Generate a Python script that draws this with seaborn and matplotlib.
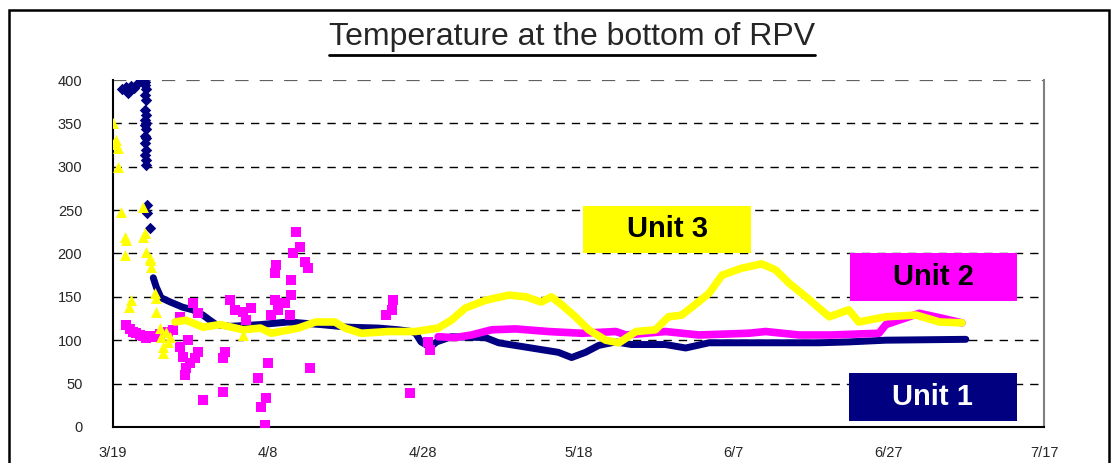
import matplotlib
matplotlib.use('Agg')
import matplotlib.pyplot as plt
import seaborn as sns
import pandas as pd
from matplotlib.patches import Rectangle
from matplotlib.lines import Line2D

# days counted from 3/19
tick_days = [0, 20, 40, 60, 80, 100, 120]
tick_labels = ['3/19', '4/8', '4/28', '5/18', '6/7', '6/27', '7/17']
y_ticks = [0, 50, 100, 150, 200, 250, 300, 350, 400]

# Unit 1 (navy diamonds)
u1_pts_day = [1.2, 1.7, 1.9, 2.3, 2.7, 3.2, 3.6, 4.1, 4.1, 4.2, 4.1, 4.2, 4.1, 4.2, 4.1, 4.2, 4.1,
              4.2, 4.1, 4.2, 4.1, 4.2, 4.1, 4.2, 4.2, 4.4, 4.4, 4.8]
u1_pts_temp = [390, 392, 385, 393, 391, 397, 400, 398, 394, 390, 383, 377, 366, 360, 354, 350,
               348, 344, 336, 333, 328, 319, 314, 308, 302, 256, 247, 229]
u1_day = [5.2, 5.6, 6.2, 7.4, 9.0, 10.3, 11.6, 12.5, 13.3, 15.1, 19.0, 22.6, 26.8, 30.3, 34.2,
          36.8, 38.5, 39.0, 39.7, 40.9, 41.7, 43.6, 48.0, 49.7, 53.9, 57.4, 59.1, 60.9, 62.6,
          64.8, 66.8, 71.2, 73.8, 76.8, 81.9, 84.1, 91.0, 94.8, 99.6, 109.9]
u1_temp = [172, 161, 149, 144, 138, 135, 129, 123, 118, 116, 118, 121, 118, 115, 114,
           112, 110, 108, 98, 92, 98, 104, 103, 97, 91, 86, 80, 86, 94,
           98, 95, 95, 91, 97, 97, 97, 97, 98, 100, 101]

# Unit 2 (magenta squares)
u2_pts_day = [1.7, 2.2, 2.6, 3.0, 3.5, 3.9, 4.3, 4.8, 5.2, 5.6, 6.1, 7.1, 7.7, 8.7, 10.3, 11.0,
              8.7, 9.0, 9.7, 9.9, 9.4, 9.3, 11.0, 10.6, 11.6, 14.5, 14.2, 14.2, 15.1, 15.7, 16.8,
              17.8, 17.2, 18.7, 19.7, 19.1, 19.6, 20.0, 20.4, 20.9, 21.3, 22.2, 23.0, 22.8, 20.9,
              21.0, 23.0, 23.2, 24.1, 23.6, 24.8, 25.2, 25.4, 36.1, 35.9, 35.2, 38.3, 40.9, 40.6]
u2_pts_temp = [118, 113, 110, 108, 106, 105, 103, 104, 105, 104, 107, 110, 112, 127, 143, 131,
               92, 81, 100, 74, 68, 60, 86, 80, 31, 86, 80, 40, 146, 135, 133,
               137, 123, 56, 33, 23, 2, 74, 129, 146, 135, 143, 152, 129, 178,
               187, 169, 200, 208, 225, 190, 183, 68, 146, 135, 129, 39, 89, 98]
u2_day = [41.9, 44.1, 46.2, 48.8, 51.9, 56.1, 60.4, 64.8, 66.1, 71.2, 75.5, 81.9, 84.1, 88.4,
          92.6, 98.7, 99.6, 103.9, 106.5, 109.4]
u2_temp = [104, 103, 106, 112, 113, 110, 108, 110, 106, 110, 106, 108, 110, 106,
           106, 108, 118, 131, 126, 120]

# Unit 3 (yellow triangles)
u3_pts_day = [0.0, 0.4, 0.0, 0.7, 0.7, 1.0, 1.6, 1.7, 1.6, 2.3, 2.1, 3.9, 4.1, 3.9, 4.3, 4.8,
              4.8, 4.9, 5.4, 5.6, 5.6, 6.1, 6.2, 6.5, 6.5, 7.4, 6.8, 7.1, 16.8]
u3_pts_temp = [350, 331, 326, 322, 300, 248, 219, 215, 198, 146, 138, 254, 224, 219, 202, 195,
               193, 184, 154, 149, 133, 114, 104, 92, 85, 104, 110, 98, 106]
u3_day = [8.0, 9.4, 11.6, 13.8, 16.8, 19.0, 20.4, 23.9, 26.1, 28.6, 29.9, 32.0, 35.5, 39.0,
          41.9, 43.6, 45.4, 48.0, 51.0, 53.2, 55.2, 56.5, 57.8, 59.6, 61.3, 63.5, 65.2, 67.4,
          69.9, 71.6, 73.3, 74.6, 76.8, 78.5, 81.0, 83.6, 85.4, 87.1, 89.3, 92.3, 94.8, 96.1,
          99.6, 103.5, 106.5, 109.4]
u3_temp = [121, 123, 115, 118, 112, 114, 108, 114, 121, 121, 114, 108, 110, 110,
           114, 123, 137, 146, 152, 150, 144, 150, 141, 127, 112, 100, 97, 110,
           112, 127, 129, 138, 154, 175, 183, 188, 181, 166, 150, 127, 135, 121,
           127, 129, 121, 120]

navy = '#000080'
magenta = '#FF00FF'
yellow = '#FFFF00'

sns.set_style('white')
plt.rcParams['font.family'] = ['Liberation Sans', 'DejaVu Sans']

fig = plt.figure(figsize=(11.18, 4.63), dpi=100)
ax = fig.add_axes([0.101, 0.078, 0.833, 0.749])

# unit 1
sns.lineplot(x=u1_day, y=u1_temp, color=navy, linewidth=5, ax=ax, zorder=3)
sns.scatterplot(x=u1_pts_day, y=u1_pts_temp, color=navy, marker='D', s=34, linewidth=0, ax=ax, zorder=3)
# unit 2
sns.lineplot(x=u2_day, y=u2_temp, color=magenta, linewidth=5.5, ax=ax, zorder=4)
sns.scatterplot(x=u2_pts_day, y=u2_pts_temp, color=magenta, marker='s', s=52, linewidth=0, ax=ax, zorder=4)
# unit 3
sns.lineplot(x=u3_day, y=u3_temp, color=yellow, linewidth=5.5, ax=ax, zorder=5)
sns.scatterplot(x=u3_pts_day, y=u3_pts_temp, color=yellow, marker='^', s=62, linewidth=0, ax=ax, zorder=5)

ax.set_xlim(0, 120)
ax.set_ylim(0, 400)
ax.set_xticks(tick_days)
ax.set_xticklabels(tick_labels)
ax.set_yticks(y_ticks)
ax.set_xlabel('')
ax.set_ylabel('')
ax.tick_params(axis='x', direction='in', length=5, width=1, pad=14, labelsize=10.5)
ax.tick_params(axis='y', length=0, pad=22, labelsize=10.5)

for yv in y_ticks[1:]:
    ax.axhline(yv, color='black' if yv < 400 else '#606060', linewidth=1 if yv < 400 else 1.6,
               linestyle=(0, (6, 5)), zorder=1)

ax.spines['top'].set_visible(False)
ax.spines['right'].set_color('#808080')
ax.spines['right'].set_linewidth(1.5)
ax.spines['left'].set_color('black')
ax.spines['left'].set_linewidth(1.5)
ax.spines['bottom'].set_color('black')
ax.spines['bottom'].set_linewidth(1.5)

# unit labels
boxes = [(60.6, 200.6, 21.6, 54.4, yellow, 'black', 'Unit 3'),
         (95.0, 145.2, 21.5, 55.4, magenta, 'black', 'Unit 2'),
         (94.8, 7.0, 21.7, 55.0, navy, 'white', 'Unit 1')]
for bx, by, bw, bh, fc, tc, label in boxes:
    ax.add_patch(Rectangle((bx, by), bw, bh, facecolor=fc, edgecolor='none', zorder=6))
    ax.text(bx + bw / 2, by + bh / 2, label, ha='center', va='center', fontsize=21,
            fontweight='bold', color=tc, zorder=7)

# title with underline
title = fig.text(0.512, 0.902, 'Temperature at the bottom of RPV', ha='center', va='baseline',
                 fontsize=23)
fig.canvas.draw()
bb = title.get_window_extent().transformed(fig.transFigure.inverted())
fig.add_artist(Line2D([bb.x0, bb.x1], [bb.y0 - 0.006, bb.y0 - 0.006], color='black',
                      linewidth=2, transform=fig.transFigure))

# outer chart frame
fig.add_artist(Rectangle((9 / 1118, -0.05), 1100 / 1118, 1.05 - 10 / 463, fill=False,
                         edgecolor='black', linewidth=1.8, transform=fig.transFigure))

fig.savefig('out.png', dpi=100)
